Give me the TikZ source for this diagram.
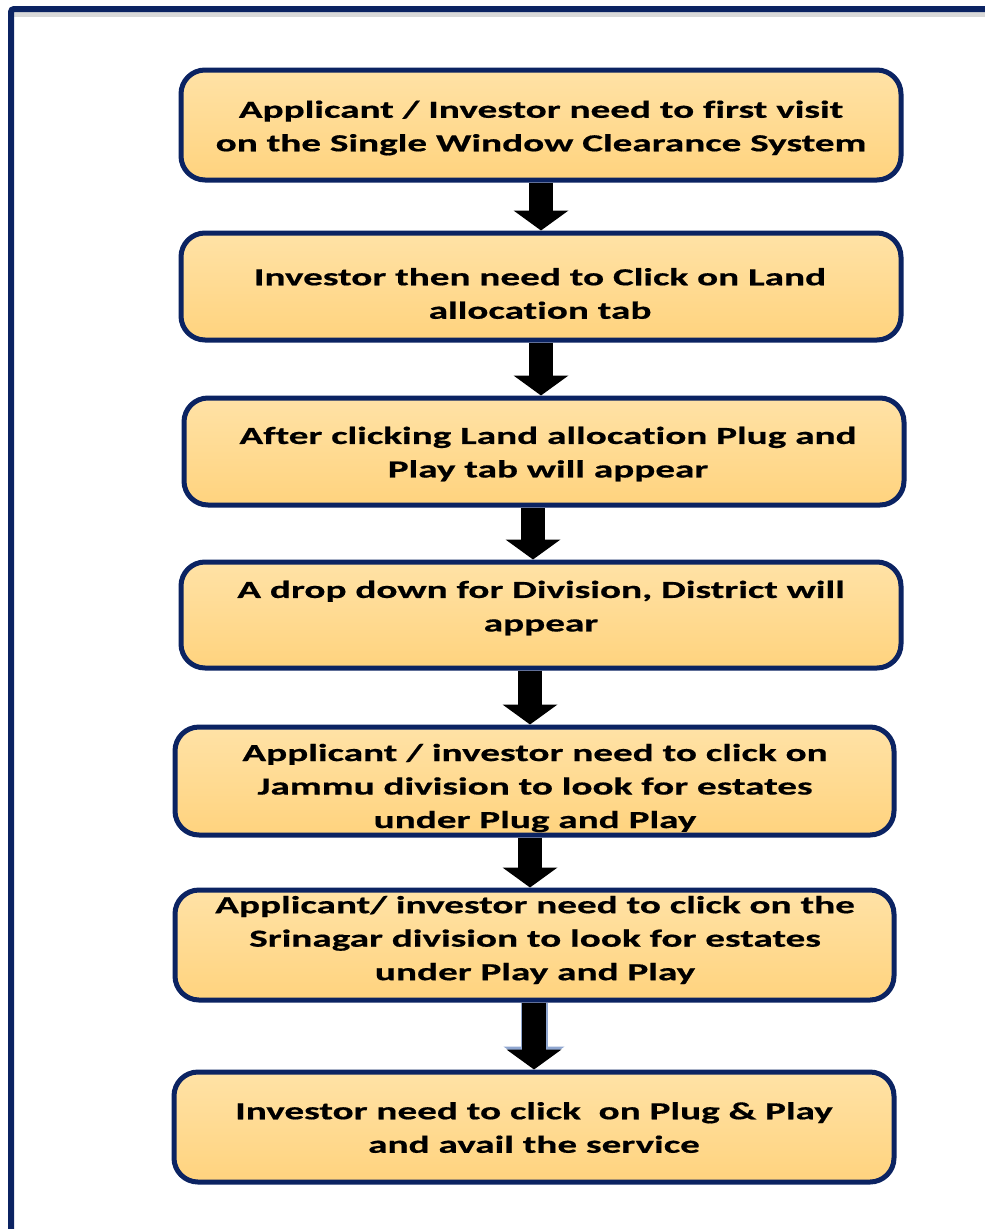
\documentclass[tikz,border=0pt]{standalone}
\usepackage{fontspec}
\newfontfamily\boxfont[FakeStretch=1.6, FakeBold=0.6, Ligatures=NoCommon]{Carlito}
\usetikzlibrary{arrows.meta}
\definecolor{navy}{HTML}{0B2362}
\definecolor{boxtop}{HTML}{FFE2A6}
\definecolor{boxbot}{HTML}{FFD37E}
\definecolor{glow}{HTML}{8FA6D0}
\tikzset{
  stepbox/.style={draw=navy, line width=5pt, rounded corners=24pt,
    top color=boxtop, bottom color=boxbot, minimum width=720pt, inner sep=0pt},
  steptext/.style={align=center, inner sep=0pt,
    font=\boxfont\bfseries\fontsize{24.5}{33.5}\selectfont},
  fat/.style={line width=24pt, -{Triangle[width=54pt,length=20pt]}},
}
\begin{document}
\begin{tikzpicture}[x=1pt,y=-1pt]
\useasboundingbox (0,0) rectangle (985,1229);
\fill[white] (0,0) rectangle (985,1229);
% frame
\fill[gray!30] (14,12) rectangle (985,17);
\draw[navy, line width=6pt, rounded corners=3pt] (11,1235) -- (11,9) -- (990,9);
% boxes
\node[stepbox, minimum height=110pt] (b1) at (541,125) {};
\node[stepbox, minimum height=107pt] (b2) at (541,286.5) {};
\node[stepbox, minimum height=107pt] (b3) at (544,451.5) {};
\node[stepbox, minimum height=106pt] (b4) at (541,615) {};
\node[stepbox, minimum height=108pt, minimum width=719pt] (b5) at (534.5,781) {};
\node[stepbox, minimum height=110pt, minimum width=719pt] (b6) at (534.5,945) {};
\node[stepbox, minimum height=110pt, minimum width=720pt] (b7) at (534,1127) {};
% arrows
\coordinate (a1) at ([xshift=0pt]b1.south);
\coordinate (a2) at ([xshift=0pt]b2.south);
\coordinate (a3) at ([xshift=-11pt]b3.south);
\coordinate (a4) at ([xshift=-11pt]b4.south);
\coordinate (a5) at ([xshift=-4.5pt]b5.south);
\coordinate (a6) at ([xshift=-0.5pt]b6.south);
\draw[fat] (a1) -- (a1 |- b2.north);
\draw[fat] (a2) -- (a2 |- b3.north);
\draw[fat] (a3) -- (a3 |- b4.north);
\draw[fat] (a4) -- (a4 |- b5.north);
\draw[fat] (a5) -- (a5 |- b6.north);
\draw[line width=27pt, glow, -{Triangle[width=60pt,length=22pt]}] (a6) -- ([yshift=1pt]a6 |- b7.north);
\draw[fat] (a6) -- (a6 |- b7.north);
% texts
\node[steptext] (t1) at (541,128) {Applicant / Investor need to first visit\\on the Single Window Clearance System};
\node[steptext] (t2) at (540,293.5) {Investor then need to Click on Land\\allocation tab};
\node[steptext] (t3) at (548,454) {After clicking Land allocation Plug and\\Play tab will appear};
\node[steptext] (t4) at (541,608) {A drop down for Division, District will\\appear};
\node[steptext] (t5) at (535,788) {Applicant / investor need to click on\\Jammu division to look for estates\\under Plug and Play};
\node[steptext] (t6) at (535,940) {Applicant/ investor need to click on the\\Srinagar division to look for estates\\under Play and Play};
\node[steptext] (t7) at (534,1127.5) {Investor need to click\ \ on Plug \& Play\\and avail the service};
\end{tikzpicture}
\end{document}
